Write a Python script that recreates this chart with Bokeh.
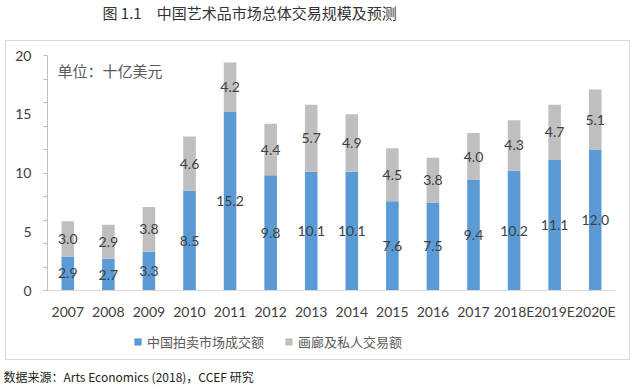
from bokeh.plotting import figure
from bokeh.layouts import column
from bokeh.models import (Range1d, FixedTicker, Label, Legend, LegendItem,
                          ColumnDataSource, LabelSet)
from bokeh.core.properties import value
from bokeh.embed import file_html
from bokeh.resources import INLINE

years = ["2007", "2008", "2009", "2010", "2011", "2012", "2013", "2014",
         "2015", "2016", "2017", "2018E", "2019E", "2020E"]
auction = [2.9, 2.7, 3.3, 8.5, 15.2, 9.8, 10.1, 10.1, 7.6, 7.5, 9.4, 10.2, 11.1, 12.0]
gallery = [3.0, 2.9, 3.8, 4.6, 4.2, 4.4, 5.7, 4.9, 4.5, 3.8, 4.0, 4.3, 4.7, 5.1]
series_names = ["中国拍卖市场成交额", "画廊及私人交易额"]
series_colors = ["#5b9bd5", "#bfbfbf"]
y_ticks = [0, 5, 10, 15, 20]
y_minor = list(range(0, 21, 2))
title_text = "图 1.1\u3000中国艺术品市场总体交易规模及预测"
unit_text = "单位：十亿美元"
source_text = "数据来源：Arts Economics (2018)，CCEF 研究"

CJK = "Noto Sans CJK SC"
NUM = "Lato"
PW = 634
BW = 625  # inner width of the bordered chart box
BORDER = "1px solid #d9d9d9"


def strip(h, w=PW):
    f = figure(width=w, height=h, output_backend="svg", toolbar_location=None,
               x_range=Range1d(0, w), y_range=Range1d(0, h),
               min_border=0, frame_align=False,
               x_axis_type=None, y_axis_type=None)
    f.outline_line_color = None
    f.grid.visible = False
    f.background_fill_color = "white"
    f.border_fill_color = "white"
    return f


def text_strip(h, txt, x_px, y_from_top, size, color):
    f = strip(h)
    f.add_layout(Label(x=x_px, y=h - y_from_top, text=txt, text_font=CJK,
                       text_font_size=size, text_color=color,
                       text_baseline="middle", text_align="left"))
    return f


title_fig = text_strip(40, title_text, 102, 12, "15px", "#333333")
source_fig = text_strip(26, source_text, 3, 16, "12px", "#222222")

# main chart
W, H = BW, 281
ML, MR, MT, MB = 41, 16, 14, 30
FW, FH = W - ML - MR, H - MT - MB
XMIN, XMAX = -0.5, len(years) - 0.5
YMIN, YMAX = 0, 20


def px2x(px):
    return XMIN + (px - ML) / FW * (XMAX - XMIN)


def px2y(py):
    return YMIN + (MT + FH - py) / FH * (YMAX - YMIN)


p = figure(width=W, height=H, output_backend="svg", toolbar_location=None,
           x_range=Range1d(XMIN, XMAX), y_range=Range1d(YMIN, YMAX),
           min_border_left=ML, min_border_right=MR, min_border_top=MT,
           min_border_bottom=MB, frame_align=False)
p.background_fill_color = "white"
p.border_fill_color = "white"
p.outline_line_color = None
p.grid.visible = False
p.margin = (0, 0, 0, 5)
p.styles = {"border-top": BORDER, "border-left": BORDER, "border-right": BORDER}

xs = list(range(len(years)))
tops = [a + g for a, g in zip(auction, gallery)]
src = ColumnDataSource(dict(
    x=xs, auction=auction, top=tops,
    a_mid=[a / 2 for a in auction],
    g_mid=[a + g / 2 for a, g in zip(auction, gallery)],
    a_lbl=["%.1f" % v for v in auction],
    g_lbl=["%.1f" % v for v in gallery],
))

p.vbar(x="x", bottom=0, top="auction", width=0.31, source=src,
       fill_color=series_colors[0], line_color=None)
p.vbar(x="x", bottom="auction", top="top", width=0.31, source=src,
       fill_color=series_colors[1], line_color=None)

for col, lbl in (("a_mid", "a_lbl"), ("g_mid", "g_lbl")):
    p.add_layout(LabelSet(x="x", y=col, text=lbl, source=src,
                          text_align="center", text_baseline="middle",
                          text_font=value(NUM), text_font_size="14px",
                          text_color="#404040"))

xa = p.xaxis[0]
xa.ticker = FixedTicker(ticks=xs)
xa.major_label_overrides = {i: y for i, y in enumerate(years)}
xa.major_tick_line_color = None
xa.minor_tick_line_color = None
xa.major_tick_out = 0
xa.major_tick_in = 0
xa.axis_line_color = "#d9d9d9"
xa.major_label_standoff = 12
xa.major_label_text_font = NUM
xa.major_label_text_font_size = "14px"
xa.major_label_text_color = "#404040"

ya = p.yaxis[0]
ya.ticker = FixedTicker(ticks=y_ticks, minor_ticks=y_minor)
ya.major_tick_line_color = None
ya.major_tick_out = 0
ya.major_tick_in = 0
ya.minor_tick_out = 4
ya.minor_tick_in = 0
ya.minor_tick_line_color = "#bfbfbf"
ya.axis_line_color = "#bfbfbf"
ya.major_label_standoff = 12
ya.major_label_text_font = NUM
ya.major_label_text_font_size = "14px"
ya.major_label_text_color = "#404040"

p.add_layout(Label(x=px2x(51), y=px2y(29), text=unit_text,
                   text_font=CJK, text_font_size="15px", text_color="#595959",
                   text_baseline="middle", text_align="left"))

# legend strip (inside the chart border)
lg = strip(39, BW)
lg.margin = (0, 0, 0, 5)
lg.styles = {"border-bottom": BORDER, "border-left": BORDER, "border-right": BORDER}
proxy = ColumnDataSource(dict(x=[0], top=[0]))
lr = [lg.vbar(x="x", top="top", bottom=0, width=1, source=proxy,
              fill_color=c, line_color=None) for c in series_colors]
leg = Legend(items=[LegendItem(label=n, renderers=[r]) for n, r in zip(series_names, lr)],
             orientation="horizontal", location=(127, 9),
             padding=0, margin=0, spacing=20, label_standoff=5,
             glyph_width=9, glyph_height=9,
             label_text_font=CJK, label_text_font_size="13px",
             label_text_color="#595959",
             border_line_color=None, background_fill_alpha=0)
lg.add_layout(leg, "center")

layout = column(title_fig, p, lg, source_fig, spacing=0)
open("out.html", "w").write(file_html(layout, INLINE))
